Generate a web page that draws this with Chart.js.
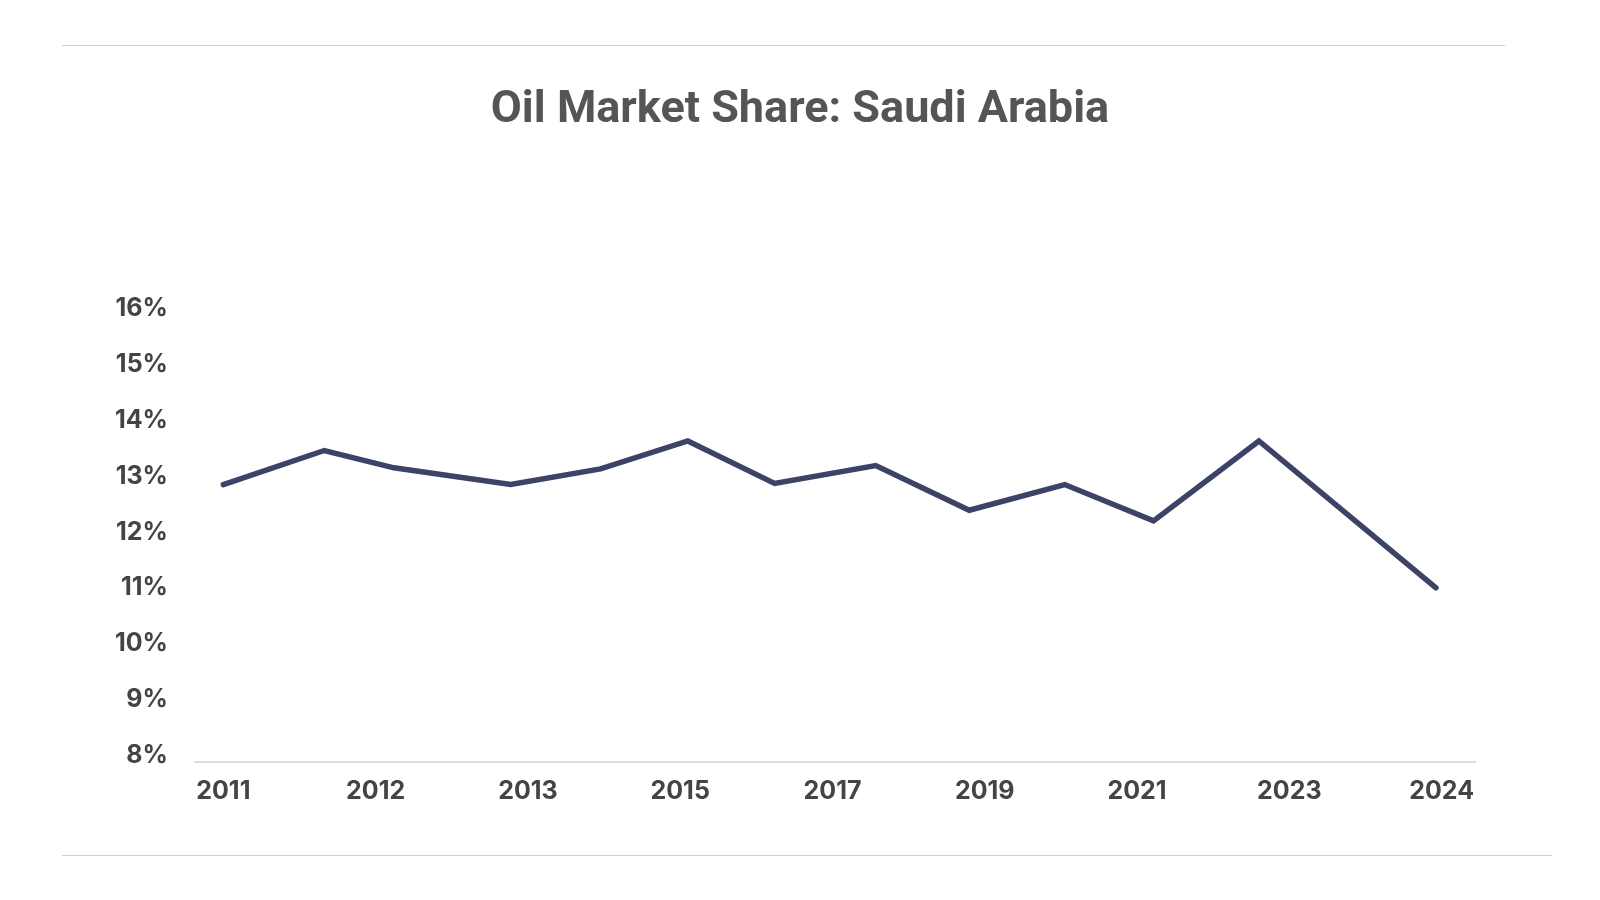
<!DOCTYPE html>
<html>
<head>
<meta charset="utf-8">
<title>Oil Market Share: Saudi Arabia</title>
<script src="https://cdn.jsdelivr.net/npm/chart.js@4.4.1/dist/chart.umd.min.js"></script>
<style>
  html, body { margin: 0; padding: 0; background: #fff; }
  #wrap { position: relative; width: 1600px; height: 900px; }
  .rule { position: absolute; height: 0; border-top: 1.5px solid #cfcfcf; }
  #ruleTop { top: 45px; left: 62px; width: 1443px; }
  #ruleBottom { top: 855px; left: 62px; width: 1490px; }
</style>
</head>
<body>
<div id="wrap">
  <div class="rule" id="ruleTop"></div>
  <canvas id="shareChart"></canvas>
  <div class="rule" id="ruleBottom"></div>
</div>
<script>
// x-axis tick labels (evenly spaced along the axis)
const xLabels = ['2011', '2012', '2013', '2015', '2017', '2019', '2021', '2023', '2024'];
// where each reading falls along the x axis, in tick-label units
const pointX = [0, 0.663, 1.12, 1.887, 2.477, 3.05, 3.62, 4.284, 4.898, 5.525, 6.108, 6.80, 7.963];
// Saudi Arabia share of the oil market, %
const shareValues = [12.85, 13.46, 13.15, 12.85, 13.13, 13.63, 12.87, 13.19, 12.39, 12.85, 12.20, 13.63, 11.00];
// y-axis ticks, %
const yTicks = [8, 9, 10, 11, 12, 13, 14, 15, 16];

const tickFont = { family: 'Inter', size: 25, weight: '700' };

// keep the title centred on the page, not on the (asymmetric) layout box
const centerTitle = {
    id: 'centerTitle',
    afterLayout(chart) {
        const t = chart.titleBlock;
        if (!t) return;
        const shift = chart.width / 2 - (t.left + t.right) / 2;
        t.left += shift;
        t.right += shift;
    }
};

const ctx = document.getElementById('shareChart').getContext('2d');
const chart = new Chart(ctx, {
    type: 'line',
    data: {
        datasets: [{
            label: 'Saudi Arabia',
            data: pointX.map((x, i) => ({ x: x, y: shareValues[i] })),
            borderColor: '#3c4366',
            borderWidth: 5.5,
            borderCapStyle: 'round',
            borderJoinStyle: 'miter',
            pointRadius: 0,
            fill: false,
            tension: 0
        }]
    },
    plugins: [centerTitle],
    options: {
        responsive: true,
        maintainAspectRatio: false,
        devicePixelRatio: 1,
        animation: false,
        layout: { padding: { left: 110, right: 125, top: 0, bottom: 78 } },
        plugins: {
            legend: { display: false },
            tooltip: { enabled: false },
            title: {
                display: true,
                text: 'Oil Market Share: Saudi Arabia',
                color: '#555555',
                font: { family: 'Roboto', size: 45, weight: '700' },
                padding: { top: 84, bottom: 164 }
            }
        },
        scales: {
            x: {
                type: 'linear',
                min: -0.186,
                max: 8.219,
                grid: { display: false, drawTicks: false },
                border: { display: true, color: '#dddddd', width: 2 },
                afterBuildTicks: scale => { scale.ticks = xLabels.map((_, i) => ({ value: i })); },
                afterFit: scale => { scale.height = 60; },
                ticks: {
                    autoSkip: false,
                    maxRotation: 0,
                    padding: 14,
                    color: '#444444',
                    font: tickFont,
                    callback: value => xLabels[value]
                }
            },
            y: {
                min: 7.88,
                max: 16.12,
                grid: { display: false, drawTicks: false },
                border: { display: false },
                afterBuildTicks: scale => { scale.ticks = yTicks.map(v => ({ value: v })); },
                afterFit: scale => { scale.width = 85; },
                ticks: {
                    padding: 27,
                    color: '#444444',
                    font: tickFont,
                    callback: value => value + '%'
                }
            }
        }
    }
});
</script>
</body>
</html>
